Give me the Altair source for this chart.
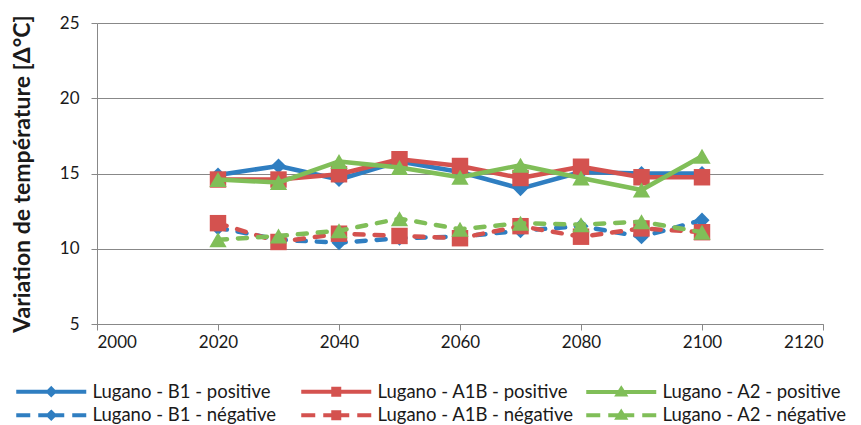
import altair as alt
import pandas as pd

years = [2020, 2030, 2040, 2050, 2060, 2070, 2080, 2090, 2100]
b1_pos = [14.9, 15.5, 14.6, 15.8, 15.1, 14.0, 15.1, 15.0, 15.0]
a1b_pos = [14.6, 14.6, 14.95, 15.95, 15.5, 14.7, 15.45, 14.75, 14.75]
a2_pos = [14.6, 14.4, 15.8, 15.4, 14.75, 15.55, 14.7, 13.9, 16.15]
b1_neg = [11.4, 10.6, 10.4, 10.7, 10.8, 11.2, 11.5, 10.8, 11.9]
a1b_neg = [11.7, 10.45, 11.0, 10.85, 10.7, 11.5, 10.8, 11.35, 11.1]
a2_neg = [10.6, 10.85, 11.2, 12.0, 11.3, 11.7, 11.6, 11.8, 11.1]

series_names = [
    "Lugano - B1 - positive", "Lugano - A1B - positive", "Lugano - A2 - positive",
    "Lugano - B1 - négative", "Lugano - A1B - négative", "Lugano - A2 - négative",
]
series_values = [b1_pos, a1b_pos, a2_pos, b1_neg, a1b_neg, a2_neg]
x_ticks = [2000, 2020, 2040, 2060, 2080, 2100, 2120]
y_ticks = [5, 10, 15, 20, 25]

colors = ["#2F7EC1", "#D4524F", "#80BE58"] * 2
markers = ["diamond", "square", "triangle-up"] * 2
marker_sizes = [230, 270, 300] * 2
dashed = [False] * 3 + [True] * 3

# legend symbols: line segment + marker, drawn with strokes (1 unit = 1 px)
solid = "M-35,0L35,0"
dash = "M-35,0L-21,0M-13,0L13,0M21,0L35,0"
dia = "M0,-3L3,0L0,3L-3,0Z"
sq = "M-3,-3L3,-3L3,3L-3,3Z"
tri = "M0,-3L3.5,2.5L-3.5,2.5Z"
legend_paths = [solid + dia, solid + sq, solid + tri, dash + dia, dash + sq, dash + tri]

# legend is laid out column by column (2 rows): interleave positive / négative
legend_order = [0, 3, 1, 4, 2, 5]
legend_domain = [series_names[k] for k in legend_order]
legend_colors = [colors[k] for k in legend_order]
legend_shapes = [legend_paths[k] for k in legend_order]

rows = []
for name, vals in zip(series_names, series_values):
    for yr, v in zip(years, vals):
        rows.append({"year": yr, "value": v, "series": name})
df = pd.DataFrame(rows)

FONT = "Lato"
x_enc = alt.X(
    "year:Q",
    scale=alt.Scale(domain=[2000, 2120], nice=False, zero=False),
    axis=alt.Axis(values=x_ticks, format="d", title=None, grid=False, tickSize=6,
                  labelPadding=4, domainColor="#888888", tickColor="#888888"),
)
y_enc = alt.Y(
    "value:Q",
    scale=alt.Scale(domain=[5, 25], nice=False, zero=False),
    axis=alt.Axis(values=y_ticks, title="Variation de température [Δ°C]", grid=True,
                  gridColor="#888888", tickSize=6, labelPadding=12, titlePadding=25,
                  titleFont=FONT, titleFontSize=23, titleFontWeight="bold", titleColor="#1a1a1a",
                  domainColor="#888888", tickColor="#888888"),
)

layers = []
for i, name in enumerate(series_names):
    base = alt.Chart(df).transform_filter(alt.datum.series == name)
    line_kw = dict(strokeWidth=4.5, strokeCap="round", strokeJoin="round", color=colors[i])
    if dashed[i]:
        line_kw["strokeDash"] = [9, 11]
    line = base.mark_line(**line_kw).encode(x=x_enc, y=y_enc)
    pts = base.mark_point(filled=True, opacity=1, shape=markers[i], size=marker_sizes[i],
                          color=colors[i]).encode(x=x_enc, y=y_enc)
    layers += [line, pts]

leg = alt.Legend(
    title=None, orient="none", legendX=-80, legendY=359, columns=3, gridAlign="all",
    columnPadding=4, rowPadding=1, symbolSize=4, symbolStrokeWidth=4,
    symbolOffset=25, labelOffset=32, labelFont=FONT, labelFontSize=18.5,
    labelColor="#1a1a1a", labelLimit=400, padding=0,
)
legend_layer = alt.Chart(df).transform_filter("false").mark_point(
    filled=False, opacity=1, strokeWidth=4
).encode(
    x=x_enc, y=y_enc,
    color=alt.Color("series:N", scale=alt.Scale(domain=legend_domain, range=legend_colors), legend=leg),
    shape=alt.Shape("series:N", scale=alt.Scale(domain=legend_domain, range=legend_shapes), legend=leg),
)

chart = alt.layer(*layers, legend_layer).properties(
    width=726, height=301,
    autosize=alt.AutoSizeParams(type="none"),
    padding={"left": 89, "top": 15, "right": 30, "bottom": 101},
).configure_view(stroke=None).configure_axis(
    labelFont=FONT, labelFontSize=17, labelColor="#1a1a1a"
)

chart.save("out.html", embed_options={"renderer": "svg", "actions": False})
